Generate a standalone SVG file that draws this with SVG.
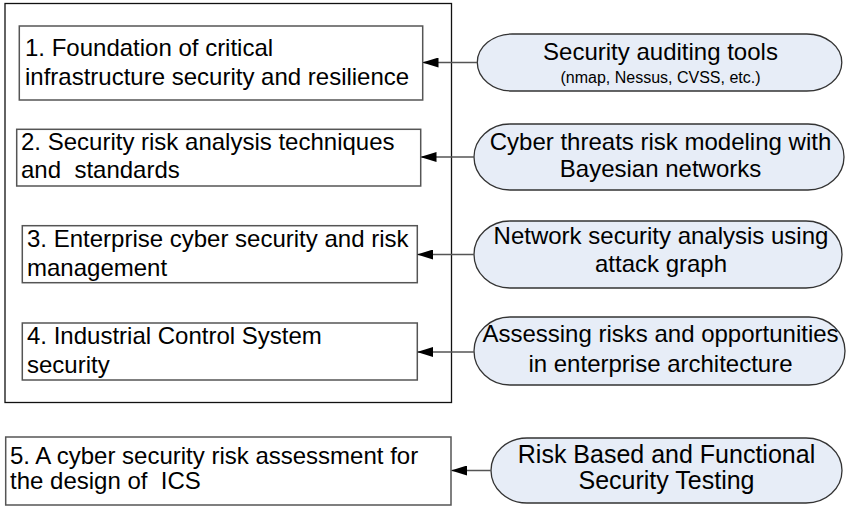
<svg xmlns="http://www.w3.org/2000/svg" width="846" height="506" viewBox="0 0 846 506">
<defs>
<style>
text{font-family:"Liberation Sans",Arial,sans-serif;font-size:24px;fill:#000;white-space:pre}
.box{fill:#fff;stroke:#555;stroke-width:1.5}
.outer{fill:none;stroke:#111;stroke-width:1.3}
.pill{fill:#E7EDF7;stroke:#333;stroke-width:1.3}
.c{text-anchor:middle}
.conn{stroke:#555;stroke-width:1.5;fill:none;marker-end:url(#ah)}
</style>
<marker id="ah" viewBox="0 0 16 10" refX="15" refY="5" markerWidth="16" markerHeight="10" markerUnits="userSpaceOnUse" orient="auto">
<path d="M0,0 L16,5 L0,10 Z" fill="#000"/>
</marker>
</defs>
<rect id="group-outer" class="outer" x="5" y="3.5" width="446.5" height="399"/>
<g id="node-1">
<rect class="box" x="19.3" y="26" width="403.4" height="74"/>
<text x="25" y="56">1. Foundation of critical</text>
<text x="25" y="85">infrastructure security and resilience</text>
</g>
<g id="node-2">
<rect class="box" x="16.7" y="129.3" width="404" height="56.7"/>
<text x="21" y="150">2. Security risk analysis techniques</text>
<text x="21" y="178">and  standards</text>
</g>
<g id="node-3">
<rect class="box" x="22.3" y="225.7" width="395" height="57"/>
<text x="27" y="247">3. Enterprise cyber security and risk</text>
<text x="27" y="276">management</text>
</g>
<g id="node-4">
<rect class="box" x="22.3" y="323" width="395" height="57"/>
<text x="27" y="344">4. Industrial Control System</text>
<text x="27" y="373">security</text>
</g>
<g id="node-5">
<rect class="box" x="5.7" y="437" width="445.3" height="68"/>
<text x="10" y="464">5. A cyber security risk assessment for</text>
<text x="10" y="489">the design of  ICS</text>
</g>
<g id="node-e1">
<rect class="pill" x="477.3" y="34" width="364.5" height="57" rx="35" ry="28.5"/>
<text class="c" x="660.5" y="60">Security auditing tools</text>
<text class="c" x="660.5" y="83" style="font-size:16px">(nmap, Nessus, CVSS, etc.)</text>
</g>
<g id="node-e2">
<rect class="pill" x="474" y="124" width="370" height="66" rx="36" ry="33"/>
<text class="c" x="660.5" y="149.5">Cyber threats risk modeling with</text>
<text class="c" x="660.5" y="177">Bayesian networks</text>
</g>
<g id="node-e3">
<rect class="pill" x="474" y="221" width="368" height="67" rx="36" ry="33.5"/>
<text class="c" x="661" y="243.5">Network security analysis using</text>
<text class="c" x="661" y="272">attack graph</text>
</g>
<g id="node-e4">
<rect class="pill" x="474" y="317" width="371" height="68" rx="36" ry="34"/>
<text class="c" x="660.5" y="342">Assessing risks and opportunities</text>
<text class="c" x="660.5" y="372">in enterprise architecture</text>
</g>
<g id="node-e5">
<rect class="pill" x="491" y="438" width="351" height="65" rx="36" ry="32.5"/>
<text class="c" x="666.5" y="463" style="font-size:25px">Risk Based and Functional</text>
<text class="c" x="666.5" y="489" style="font-size:25px">Security Testing</text>
</g>
<g id="connectors">
<line class="conn" x1="477.3" y1="62.5" x2="423.5" y2="62.5"/>
<line class="conn" x1="474" y1="157" x2="421.5" y2="157"/>
<line class="conn" x1="474" y1="254.5" x2="418" y2="254.5"/>
<line class="conn" x1="474" y1="352" x2="418" y2="352"/>
<line class="conn" x1="491" y1="470.5" x2="452" y2="470.5"/>
</g>
</svg>
